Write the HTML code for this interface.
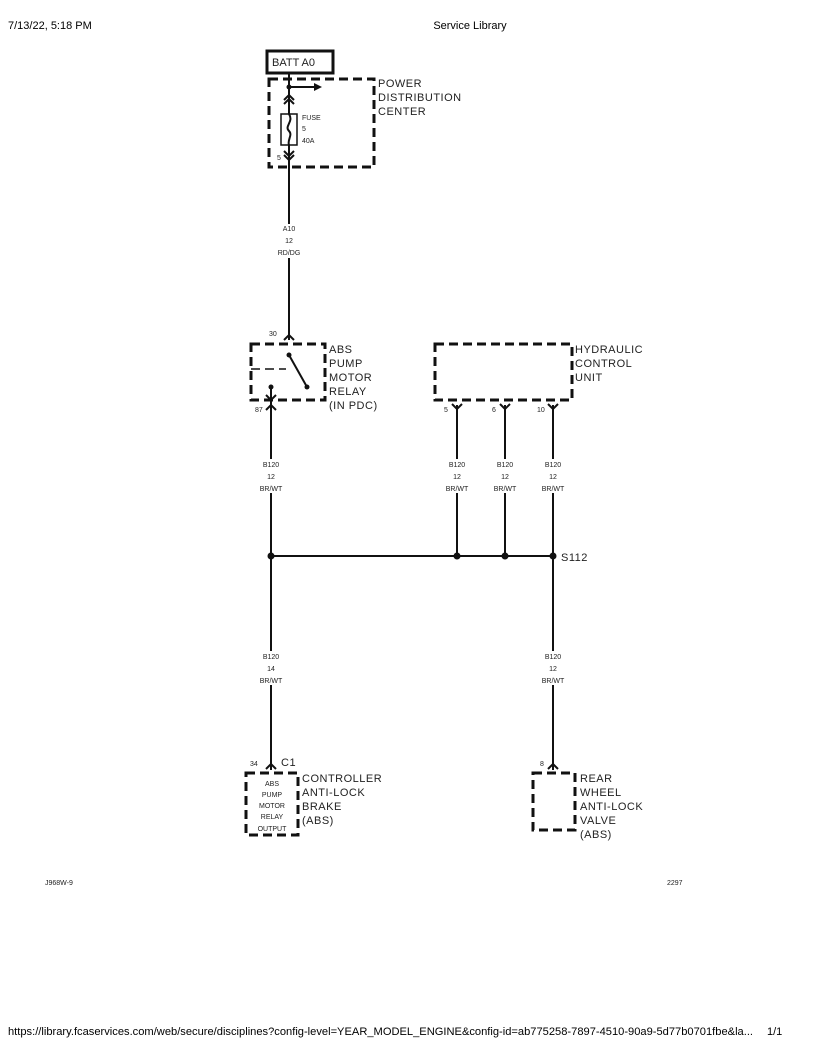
<!DOCTYPE html>
<html><head><meta charset="utf-8"><style>
html,body{margin:0;padding:0;background:#fff}
svg{display:block}
text{font-family:"Liberation Sans",sans-serif;fill:#222}
.s{font-size:7px}
.m{font-size:11px;letter-spacing:0.5px}
.h{font-size:11px;fill:#000}
.d{fill:none;stroke:#111;stroke-width:3;stroke-dasharray:9,5}
.w{stroke:#111;stroke-width:2;fill:none}
</style></head><body>
<svg width="816" height="1056" viewBox="0 0 816 1056" xmlns="http://www.w3.org/2000/svg">
<text class="h" x="8" y="29">7/13/22, 5:18 PM</text>
<text class="h" x="470" y="29" text-anchor="middle">Service Library</text>
<text class="h" x="8" y="1035" textLength="745" lengthAdjust="spacingAndGlyphs">https://library.fcaservices.com/web/secure/disciplines?config-level=YEAR_MODEL_ENGINE&amp;config-id=ab775258-7897-4510-90a9-5d77b0701fbe&amp;la...</text>
<text class="h" x="767" y="1035">1/1</text>

<!-- BATT -->
<rect x="267" y="51" width="66" height="22" fill="none" stroke="#111" stroke-width="3"/>
<text x="272" y="66" style="font-size:11px">BATT A0</text>
<rect class="d" x="269" y="79" width="105" height="88"/>
<text class="m" x="378" y="87">POWER</text>
<text class="m" x="378" y="101">DISTRIBUTION</text>
<text class="m" x="378" y="115">CENTER</text>
<line class="w" x1="289" y1="73" x2="289" y2="340"/>
<circle cx="289" cy="87" r="2.5" fill="#111"/>
<line class="w" x1="289" y1="87" x2="314" y2="87"/>
<polygon points="314,83 322,87 314,91" fill="#111"/>
<polyline class="w" points="284,100 289,95 294,100" stroke-width="1.5"/>
<polyline class="w" points="284,104 289,99 294,104" stroke-width="1.5"/>
<rect x="281" y="114" width="16" height="31" fill="#fff" stroke="#111" stroke-width="1.5"/>
<path d="M289,114 C294,122 284,126 289,131 C293,135 287,140 289,145" class="w" stroke-width="1.2"/>
<text class="s" x="302" y="120">FUSE</text>
<text class="s" x="302" y="131">5</text>
<text class="s" x="302" y="143">40A</text>
<polyline class="w" points="284,151 289,156 294,151" stroke-width="1.5"/>
<polyline class="w" points="284,155 289,160 294,155" stroke-width="1.5"/>
<text class="s" x="277" y="160">5</text>
<rect x="278" y="224" width="22" height="34" fill="#fff"/>
<text class="s" x="289" y="231" text-anchor="middle">A10</text>
<text class="s" x="289" y="243" text-anchor="middle">12</text>
<text class="s" x="289" y="255" text-anchor="middle">RD/DG</text>

<!-- Relay -->
<rect class="d" x="251" y="344" width="74" height="56"/>
<text class="s" x="269" y="336">30</text>
<polyline class="w" points="284,340 289,335 294,340" stroke-width="1.5"/>
<circle cx="289" cy="355" r="2.5" fill="#111"/>
<line class="w" x1="289" y1="355" x2="307" y2="387"/>
<circle cx="307" cy="387" r="2.5" fill="#111"/>
<line x1="251" y1="369" x2="286" y2="369" stroke="#111" stroke-width="1.5" stroke-dasharray:="" style="stroke-dasharray:9,5"/>
<circle cx="271" cy="387" r="2.5" fill="#111"/>
<line class="w" x1="271" y1="387" x2="271" y2="770"/>
<polyline class="w" points="266,395 271,400 276,395" stroke-width="1.5"/>
<polyline class="w" points="266,410 271,405 276,410" stroke-width="1.5"/>
<text class="s" x="255" y="412">87</text>
<text class="m" x="329" y="353">ABS</text>
<text class="m" x="329" y="367">PUMP</text>
<text class="m" x="329" y="381">MOTOR</text>
<text class="m" x="329" y="395">RELAY</text>
<text class="m" x="329" y="409">(IN PDC)</text>

<!-- HCU -->
<rect class="d" x="435" y="344" width="137" height="56"/>
<text class="m" x="575" y="353">HYDRAULIC</text>
<text class="m" x="575" y="367">CONTROL</text>
<text class="m" x="575" y="381">UNIT</text>
<g>
<line class="w" x1="457" y1="405" x2="457" y2="556"/>
<line class="w" x1="505" y1="405" x2="505" y2="556"/>
<line class="w" x1="553" y1="405" x2="553" y2="770"/>
<polyline class="w" points="452,404 457,409 462,404" stroke-width="1.5"/>
<polyline class="w" points="500,404 505,409 510,404" stroke-width="1.5"/>
<polyline class="w" points="548,404 553,409 558,404" stroke-width="1.5"/>
<text class="s" x="444" y="412">5</text>
<text class="s" x="492" y="412">6</text>
<text class="s" x="537" y="412">10</text>
</g>
<!-- wire labels -->
<g text-anchor="middle">
<rect x="258" y="459" width="26" height="34" fill="#fff"/>
<rect x="444" y="459" width="26" height="34" fill="#fff"/>
<rect x="492" y="459" width="26" height="34" fill="#fff"/>
<rect x="540" y="459" width="26" height="34" fill="#fff"/>
<rect x="258" y="651" width="26" height="34" fill="#fff"/>
<rect x="540" y="651" width="26" height="34" fill="#fff"/>
<text class="s" x="271" y="467">B120</text><text class="s" x="271" y="479">12</text><text class="s" x="271" y="491">BR/WT</text>
<text class="s" x="457" y="467">B120</text><text class="s" x="457" y="479">12</text><text class="s" x="457" y="491">BR/WT</text>
<text class="s" x="505" y="467">B120</text><text class="s" x="505" y="479">12</text><text class="s" x="505" y="491">BR/WT</text>
<text class="s" x="553" y="467">B120</text><text class="s" x="553" y="479">12</text><text class="s" x="553" y="491">BR/WT</text>
<text class="s" x="271" y="659">B120</text><text class="s" x="271" y="671">14</text><text class="s" x="271" y="683">BR/WT</text>
<text class="s" x="553" y="659">B120</text><text class="s" x="553" y="671">12</text><text class="s" x="553" y="683">BR/WT</text>
</g>
<line class="w" x1="271" y1="556" x2="553" y2="556"/>
<circle cx="271" cy="556" r="3.5" fill="#111"/>
<circle cx="457" cy="556" r="3.5" fill="#111"/>
<circle cx="505" cy="556" r="3.5" fill="#111"/>
<circle cx="553" cy="556" r="3.5" fill="#111"/>
<text class="m" x="561" y="561">S112</text>

<!-- Controller -->
<polyline class="w" points="266,769 271,764 276,769" stroke-width="1.5"/>
<text class="s" x="250" y="766">34</text>
<text class="m" x="281" y="766">C1</text>
<rect class="d" x="246" y="773" width="52" height="62"/>
<g text-anchor="middle">
<text class="s" x="272" y="786">ABS</text>
<text class="s" x="272" y="797">PUMP</text>
<text class="s" x="272" y="808">MOTOR</text>
<text class="s" x="272" y="819">RELAY</text>
<text class="s" x="272" y="831">OUTPUT</text>
</g>
<text class="m" x="302" y="782">CONTROLLER</text>
<text class="m" x="302" y="796">ANTI-LOCK</text>
<text class="m" x="302" y="810">BRAKE</text>
<text class="m" x="302" y="824">(ABS)</text>

<!-- Rear valve -->
<polyline class="w" points="548,769 553,764 558,769" stroke-width="1.5"/>
<text class="s" x="540" y="766">8</text>
<rect class="d" x="533" y="773" width="42" height="57"/>
<text class="m" x="580" y="782">REAR</text>
<text class="m" x="580" y="796">WHEEL</text>
<text class="m" x="580" y="810">ANTI-LOCK</text>
<text class="m" x="580" y="824">VALVE</text>
<text class="m" x="580" y="838">(ABS)</text>

<text class="s" x="45" y="885">J968W-9</text>
<text class="s" x="667" y="885">2297</text>
</svg>
</body></html>
